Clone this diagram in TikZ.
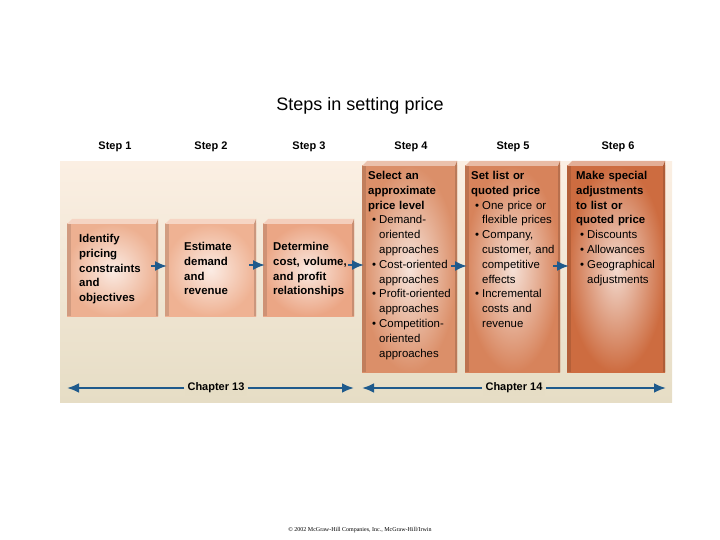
\documentclass[tikz,border=0pt]{standalone}
\usepackage{fontspec}
\setmainfont{Liberation Sans}
\newfontfamily\footfont{Liberation Serif}
\usetikzlibrary{arrows.meta}
\definecolor{arr}{HTML}{1F5A8C}
\definecolor{bgA}{HTML}{FBEFE3}
\definecolor{bgB}{HTML}{E6DDC5}
\definecolor{cA}{HTML}{EDB091}
\definecolor{cB}{HTML}{EFB293}
\definecolor{cC}{HTML}{EBA685}
\definecolor{cD}{HTML}{DB8F69}
\definecolor{cE}{HTML}{D7835B}
\definecolor{cF}{HTML}{CD6C40}
\begin{document}
\begin{tikzpicture}[x=1pt,y=-1pt,
  lbl/.style={font=\bfseries\fontsize{11}{13}\selectfont},
  txt/.style={font=\fontsize{11.4}{14.8}\selectfont,align=left,anchor=north west,inner sep=0pt,text width=#1},
  conn/.style={-{Latex[length=12pt,width=10pt]},arr,line width=2pt},
  chap/.style={arr,line width=2.5pt,-{Latex[length=12pt,width=10pt]}}]
\useasboundingbox (0,0) rectangle (720,540);
\node (title) at (360,106) {\fontsize{18}{21}\selectfont Steps in setting price};
\shade[top color=bgA,bottom color=bgB] (60,162) rectangle (672,402);
\newcommand\mybox[6]{% name x1 y1 x2 y2 color
  \shade[inner color=#6!25!white,outer color=#6] (#2,#3) rectangle (#4,#5);
  \fill[#6!55!white] (#2,#3) -- ++(5,-5) -- (#4,#3-5) -- (#4-2,#3) -- cycle;
  \fill[#6!85!black] (#4-2,#3) -- (#4,#3-5) -- (#4,#5) -- (#4-2,#5) -- cycle;
  \fill[#6!88!black] (#2,#3) rectangle (#2+4,#5);
  \node[inner sep=0pt] (#1) at ({(#2+#4)/2},{(#3+#5)/2}) {};}
\mybox{b1}{67}{224}{158}{316}{cA}
\mybox{b2}{165}{224}{256}{316}{cB}
\mybox{b3}{263}{224}{354}{316}{cC}
\mybox{b4}{362}{166}{457}{372}{cD}
\mybox{b5}{465}{166}{560}{372}{cE}
\mybox{b6}{567}{166}{665}{372}{cF}
\node[lbl] (s1) at (115,147) {Step 1};
\node[lbl] (s2) at (211,147) {Step 2};
\node[lbl] (s3) at (309,147) {Step 3};
\node[lbl] (s4) at (411,147) {Step 4};
\node[lbl] (s5) at (513,147) {Step 5};
\node[lbl] (s6) at (618,147) {Step 6};
\node[txt=80pt,font=\bfseries\fontsize{11.4}{14.8}\selectfont] (t1) at (79,234) {Identify\\pricing\\constraints\\and\\objectives};
\node[txt=75pt,font=\bfseries\fontsize{11.4}{14.8}\selectfont] (t2) at (184,242) {Estimate\\demand\\and\\revenue};
\node[txt=85pt,font=\bfseries\fontsize{11.4}{14.8}\selectfont] (t3) at (273,242) {Determine\\cost, volume,\\and profit\\relationships};
\node[txt=92pt] (t4) at (368,171) {\textbf{Select an}\\\textbf{approximate}\\\textbf{price level}\\
\makebox[11pt][l]{\ •}Demand-\\\hspace*{11pt}oriented\\\hspace*{11pt}approaches\\
\makebox[11pt][l]{\ •}Cost-oriented\\\hspace*{11pt}approaches\\
\makebox[11pt][l]{\ •}Profit-oriented\\\hspace*{11pt}approaches\\
\makebox[11pt][l]{\ •}Competition-\\\hspace*{11pt}oriented\\\hspace*{11pt}approaches};
\node[txt=92pt] (t5) at (471,171) {\textbf{Set list or}\\\textbf{quoted price}\\
\makebox[11pt][l]{\ •}One price or\\\hspace*{11pt}flexible prices\\
\makebox[11pt][l]{\ •}Company,\\\hspace*{11pt}customer, and\\\hspace*{11pt}competitive\\\hspace*{11pt}effects\\
\makebox[11pt][l]{\ •}Incremental\\\hspace*{11pt}costs and\\\hspace*{11pt}revenue};
\node[txt=92pt] (t6) at (576,171) {\textbf{Make special}\\\textbf{adjustments}\\\textbf{to list or}\\\textbf{quoted price}\\
\makebox[11pt][l]{\ •}Discounts\\
\makebox[11pt][l]{\ •}Allowances\\
\makebox[11pt][l]{\ •}Geographical\\\hspace*{11pt}adjustments};
\coordinate (a1s) at (151,266); \coordinate (a1e) at (167,266);
\coordinate (a2s) at (249,265); \coordinate (a2e) at (265,265);
\coordinate (a3s) at (348,265); \coordinate (a3e) at (364,265);
\coordinate (a4s) at (451,266); \coordinate (a4e) at (467,266);
\coordinate (a5s) at (553,266); \coordinate (a5e) at (569,266);
\foreach \i in {1,...,5}{\draw[conn] (a\i s) -- (a\i e);}
\node[lbl,fill=bgB,inner xsep=3pt] (c13) at (216,388) {Chapter 13};
\node[lbl,fill=bgB,inner xsep=3pt] (c14) at (514,388) {Chapter 14};
\coordinate (c13l) at (67,388); \coordinate (c13r) at (354,388);
\coordinate (c14l) at (362,388); \coordinate (c14r) at (666,388);
\draw[chap] (c13.west) -- (c13l);
\draw[chap] (c13.east) -- (c13r);
\draw[chap] (c14.west) -- (c14l);
\draw[chap] (c14.east) -- (c14r);
\node (foot) at (360,530) {\footfont\fontsize{6}{7}\selectfont © 2002 McGraw-Hill Companies, Inc., McGraw-Hill/Irwin};
\end{tikzpicture}
\end{document}
